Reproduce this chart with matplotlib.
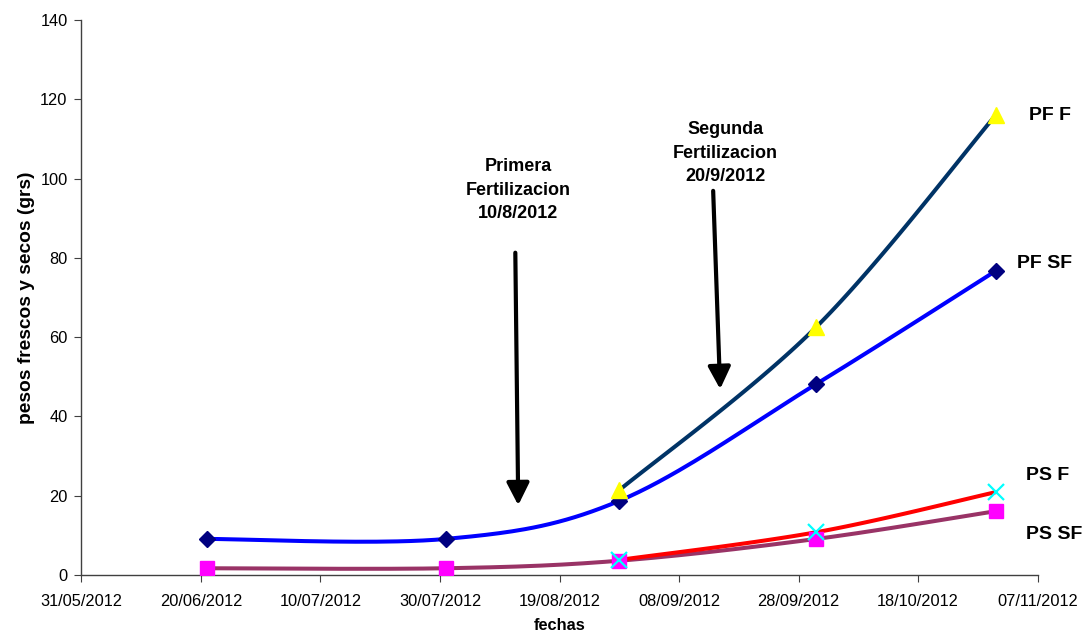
import matplotlib
matplotlib.use('Agg')
import matplotlib.pyplot as plt
import matplotlib.dates as mdates
import numpy as np
from datetime import datetime, timedelta

plt.rcParams['font.family'] = ['Liberation Sans', 'DejaVu Sans']

fechas = ['21/06/2012', '31/07/2012', '29/08/2012', '01/10/2012', '31/10/2012']
fechas_f = fechas[2:]

pf_sf = [9.1, 9.1, 18.7, 48.2, 76.7]
ps_sf = [1.7, 1.7, 3.6, 9.1, 16.1]
pf_f = [21.4, 62.6, 116.0]
ps_f = [3.8, 10.8, 20.9]

etiquetas = ['PF F', 'PF SF', 'PS F', 'PS SF']


def _to_num(lista):
    return mdates.date2num([datetime.strptime(f, '%d/%m/%Y') for f in lista])


def _suavizar(x, y, n=40):
    """Curva Catmull-Rom por los puntos (parecida al suavizado de Excel)."""
    p = np.column_stack([x, y]).astype(float)
    p = np.vstack([p[0], p, p[-1]])
    out = []
    t = np.linspace(0, 1, n)
    for i in range(1, len(p) - 2):
        p0, p1, p2, p3 = p[i - 1], p[i], p[i + 1], p[i + 2]
        seg = 0.5 * ((2 * p1)[None, :]
                     + (-p0 + p2)[None, :] * t[:, None]
                     + (2 * p0 - 5 * p1 + 4 * p2 - p3)[None, :] * t[:, None] ** 2
                     + (-p0 + 3 * p1 - 3 * p2 + p3)[None, :] * t[:, None] ** 3)
        out.append(seg)
    s = np.vstack(out)
    return s[:, 0], s[:, 1]


x_all = _to_num(fechas)
x_f = _to_num(fechas_f)

fig = plt.figure(figsize=(10.88, 6.35), dpi=100)
ax = fig.add_axes([0.0749, 0.0945, 0.8787, 0.874])

series = [
    (x_all, pf_sf, '#0000FF', dict(marker='D', color='#000080', ms=8)),
    (x_all, ps_sf, '#993366', dict(marker='s', color='#FF00FF', ms=10)),
    (x_f, pf_f, '#003366', dict(marker='^', color='#FFFF00', ms=11)),
    (x_f, ps_f, '#FF0000', dict(marker='x', color='#00FFFF', ms=11, mew=1.6)),
]
for z, (xs, ys, lc, mk) in enumerate(series):
    sx, sy = _suavizar(xs, ys)
    ax.plot(sx, sy, color=lc, lw=2.9, solid_capstyle='round', zorder=2 + z)
for z, (xs, ys, lc, mk) in enumerate(series):
    ax.plot(xs, ys, ls='none', zorder=6 + z, **mk)

inicio = datetime(2012, 5, 31)
ax.set_xlim(mdates.date2num(inicio), mdates.date2num(datetime(2012, 11, 7)))
ax.set_ylim(0, 140)
ticks = [inicio + timedelta(days=20 * i) for i in range(9)]
ax.set_xticks(mdates.date2num(ticks))
ax.xaxis.set_major_formatter(mdates.DateFormatter('%d/%m/%Y'))
ax.set_yticks(range(0, 141, 20))

for side in ['top', 'right']:
    ax.spines[side].set_visible(False)
for side in ['left', 'bottom']:
    ax.spines[side].set_color('#404040')
    ax.spines[side].set_linewidth(1.0)
ax.tick_params(axis='both', labelsize=11.8, length=5, color='#404040', pad=5)
ax.tick_params(axis='x', pad=9)

ax.set_xlabel('fechas', fontsize=11.8, fontweight='bold', labelpad=6)
ax.set_ylabel('pesos frescos y secos (grs)', fontsize=13.8, fontweight='bold', labelpad=4)


def _d(dias):
    return mdates.date2num(inicio + timedelta(days=dias))


# flechas de las fertilizaciones
flecha = dict(arrowstyle='-|>,head_width=0.38,head_length=0.75',
              lw=3.0, color='black', mutation_scale=18)
ax.annotate('', xy=(_d(73.1), 16.9), xytext=(_d(72.6), 82), arrowprops=flecha)
ax.annotate('', xy=(_d(106.9), 46.2), xytext=(_d(105.7), 97.6), arrowprops=flecha)
ax.text(_d(73.1), 97.0, 'Primera\nFertilizacion\n10/8/2012', ha='center', va='center',
        fontsize=13, fontweight='bold', linespacing=1.5)
ax.text(_d(107.7), 106.4, 'Segunda\nFertilizacion\n20/9/2012', ha='center', va='center',
        fontsize=13, fontweight='bold', linespacing=1.5)

# nombres de las series
pos_etiquetas = [(158.6, 115.8), (156.6, 78.7), (158.0, 25.2), (158.0, 10.1)]
for txt, (dx, yy) in zip(etiquetas, pos_etiquetas):
    ax.text(_d(dx), yy, txt, ha='left', va='center', fontsize=14,
            fontweight='bold', clip_on=False)

fig.savefig('out.png', dpi=100)
